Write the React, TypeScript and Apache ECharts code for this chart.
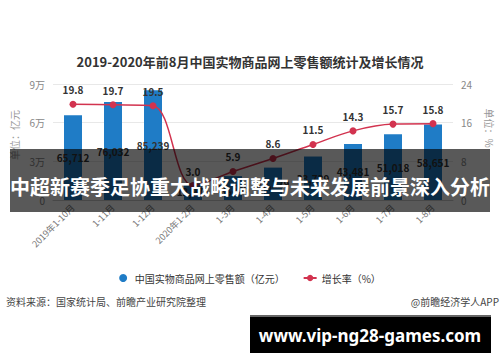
import React, { useEffect, useRef } from "react";
import * as echarts from "echarts";

const categories = ["2019年1-10月", "1-11月", "1-12月", "2020年1-2月", "1-3月", "1-4月", "1-5月", "1-6月", "1-7月", "1-8月"];
const salesValues = [65712, 76032, 85239, 12975, 18536, 25129, 33739, 43481, 51018, 58651];
const growthValues = [19.8, 19.7, 19.5, 3.0, 5.9, 8.6, 11.5, 14.3, 15.7, 15.8];
const leftTicks = ["0", "3万", "6万", "9万"];
const rightTicks = ["0", "8", "16", "24"];
const salesName = "中国实物商品网上零售额（亿元）";
const growthName = "增长率（%）";
const titleText = "2019-2020年前8月中国实物商品网上零售额统计及增长情况";
const bannerText = "中超新赛季足协重大战略调整与未来发展前景深入分析";
const sourceText = "资料来源：国家统计局、前瞻产业研究院整理";
const creditText = "@前瞻经济学人APP";
const siteText = "www.vip-ng28-games.com";

const FONT = "'Noto Sans CJK SC', 'Noto Sans', sans-serif";

export default function App() {
  const ref = useRef<HTMLDivElement>(null);
  useEffect(() => {
    if (!ref.current) return;
    const chart = echarts.init(ref.current, null, { renderer: "svg" });
    chart.setOption({
      animation: false,
      backgroundColor: "#ffffff",
      textStyle: { fontFamily: FONT },
      title: {
        text: titleText,
        left: "center",
        top: 50,
        textStyle: { fontSize: 13, fontWeight: "bold", color: "#333", fontFamily: FONT },
      },
      legend: {
        top: 268,
        left: "center",
        itemGap: 18,
        itemWidth: 13,
        itemHeight: 8,
        textStyle: { fontSize: 10, color: "#333", fontFamily: FONT },
        data: [
          { name: salesName, icon: "circle" },
          { name: growthName },
        ],
      },
      grid: { left: 53, right: 47, top: 84, bottom: 162, containLabel: false },
      xAxis: {
        type: "category",
        data: categories,
        axisLine: { lineStyle: { color: "#ccc" } },
        axisTick: { alignWithLabel: true, lineStyle: { color: "#ccc" } },
        axisLabel: { rotate: 45, fontSize: 9, color: "#777", margin: 6, interval: 0 },
      },
      yAxis: [
        {
          type: "value",
          min: 0,
          max: 90000,
          interval: 30000,
          axisLabel: {
            fontSize: 10,
            color: "#888",
            formatter: (v: number) => leftTicks[Math.round(v / 30000)] ?? "",
          },
          axisLine: { show: false },
          axisTick: { show: false },
          splitLine: { lineStyle: { color: "#e8e8e8" } },
        },
        {
          type: "value",
          min: 0,
          max: 24,
          interval: 8,
          axisLabel: {
            fontSize: 10,
            color: "#888",
            formatter: (v: number) => rightTicks[Math.round(v / 8)] ?? "",
          },
          axisLine: { show: false },
          axisTick: { show: false },
          splitLine: { show: false },
        },
      ],
      series: [
        {
          name: salesName,
          type: "bar",
          data: salesValues,
          barWidth: 18,
          itemStyle: { color: "#1f7cc6" },
          label: {
            show: true,
            position: "inside",
            fontSize: 10,
            fontWeight: "bold",
            color: "#333",
            formatter: (p: any) => Number(p.value).toLocaleString("en-US"),
          },
        },
        {
          name: growthName,
          type: "line",
          yAxisIndex: 1,
          data: growthValues,
          smooth: 0.35,
          symbol: "circle",
          symbolSize: 7,
          lineStyle: { color: "#d2334f", width: 1.5 },
          itemStyle: { color: "#d2334f" },
          label: {
            show: true,
            position: "top",
            fontSize: 10,
            fontWeight: "bold",
            color: "#333",
            distance: 6,
            formatter: (p: any) => Number(p.value).toFixed(1),
          },
        },
      ],
      graphic: [
        {
          type: "text",
          x: 14,
          y: 135,
          rotation: Math.PI / 2,
          style: { text: "单位：亿元", fontSize: 10, fill: "#999", textAlign: "center", textVerticalAlign: "middle", fontFamily: FONT },
        },
        {
          type: "text",
          x: 489,
          y: 128,
          rotation: -Math.PI / 2,
          style: { text: "单位：%", fontSize: 10, fill: "#999", textAlign: "center", textVerticalAlign: "middle", fontFamily: FONT },
        },
        {
          type: "text",
          x: 6,
          y: 301,
          style: { text: sourceText, fontSize: 10, fill: "#444", textVerticalAlign: "middle", fontFamily: FONT },
        },
        {
          type: "text",
          x: 499,
          y: 301,
          style: { text: creditText, fontSize: 10, fill: "#444", textAlign: "right", textVerticalAlign: "middle", fontFamily: FONT },
        },
        {
          type: "rect",
          shape: { x: 10, y: 149, width: 480, height: 63 },
          style: { fill: "rgba(0,0,0,0.65)" },
          z: 100,
        },
        {
          type: "text",
          x: 250,
          y: 186,
          z: 101,
          style: {
            text: bannerText,
            fontSize: 20,
            fontWeight: "bold",
            fill: "#ffffff",
            textAlign: "center",
            textVerticalAlign: "middle",
            fontFamily: FONT,
          },
        },
        {
          type: "rect",
          shape: { x: 250, y: 315, width: 241, height: 38 },
          style: { fill: "#000000" },
          z: 100,
        },
        {
          type: "rect",
          shape: { x: 250, y: 315, width: 241, height: 2 },
          style: { fill: "#666666" },
          z: 101,
        },
        {
          type: "text",
          x: 370,
          y: 335,
          z: 101,
          style: {
            text: siteText,
            fontSize: 17,
            fontWeight: "bold",
            fill: "#ffffff",
            textAlign: "center",
            textVerticalAlign: "middle",
            fontFamily: "'Noto Sans', 'Open Sans', sans-serif",
          },
        },
      ],
    });
    return () => chart.dispose();
  }, []);
  return <div ref={ref} style={{ width: 500, height: 362, position: "absolute", left: 0, top: 0 }} />;
}
